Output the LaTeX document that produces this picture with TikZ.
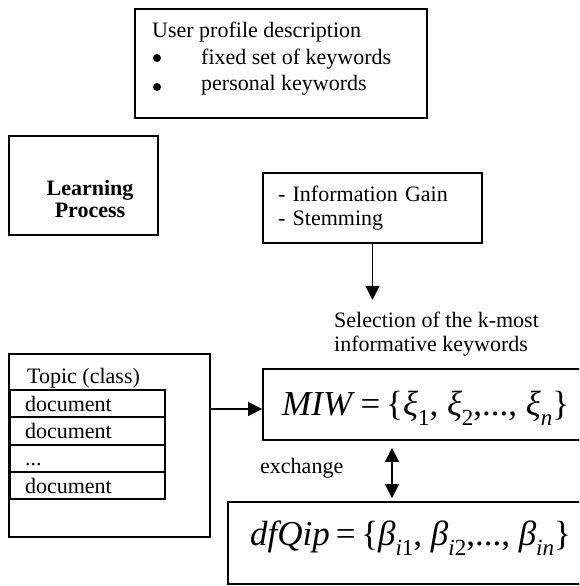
\documentclass[tikz,border=0pt]{standalone}
\usepackage{fontspec}
\setmainfont{Liberation Serif}
\usepackage{tikz}
\usetikzlibrary{arrows.meta,positioning}
\newcommand{\sbs}[1]{\raisebox{-0.3em}{\fontsize{23}{23}\selectfont #1}}
\newcommand{\formula}{\fontsize{35}{35}\selectfont}

\begin{document}
\begin{tikzpicture}[x=1pt, y=-1pt,
  box/.style={draw, line width=1.8pt, inner sep=0pt},
  txt/.style={inner sep=0pt, font=\fontsize{22}{24}\selectfont, align=left},
  docrow/.style={draw, line width=1.8pt, text width=125pt, inner xsep=15pt,
                 inner ysep=0pt, minimum height=27.3pt, text height=15pt,
                 text depth=0pt, font=\fontsize{22}{24}\selectfont, align=left},
  arrow/.style={-{Triangle[length=14pt, width=14pt]}, line width=1.4pt},
  dblarrow/.style={{Triangle[length=14pt, width=14pt]}-{Triangle[length=14pt, width=14pt]},
                   line width=1.4pt},
]
  \useasboundingbox (0,0) rectangle (579,586);
  \clip (0,0) rectangle (579,586);

  % user profile
  \node[box, minimum width=292pt, minimum height=109pt] (prof) at (281, 63.5) {};
  \node[txt, anchor=north west, font=\fontsize{22}{26.5}\selectfont] (proftxt) at (152, 22)
    {User profile description\\
     \hspace{49pt}fixed set of keywords\\
     \hspace{49pt}personal keywords};
  \fill (157, 58) circle (4pt);
  \fill (157, 87) circle (4pt);

  % learning process
  \node[box, minimum width=149pt, minimum height=99pt] (learn) at (83.5, 185.5) {};
  \node[txt, align=center, font=\fontsize{22}{22}\selectfont\bfseries] (lp) at (90, 198.5)
    {Learning\\Process};

  % keyword selection
  \node[box, minimum height=70pt, text width=189pt, inner xsep=15pt,
        font=\fontsize{22}{24}\selectfont, align=left] (info) at (372.5, 208)
    {- Information Gain\\- Stemming};
  \coordinate (seltip) at ([yshift=-56pt]info.south);
  \draw[arrow] (info.south) -- (seltip);
  \node[txt, anchor=north west] (sel) at (334, 312)
    {Selection of the k-most\\informative keywords};

  % topic with its documents
  \node[box, minimum width=201pt, minimum height=183pt] (topic) at (109.5, 445.5) {};
  \node[txt, anchor=base west] (topiclbl) at (27, 383) {Topic (class)};
  \node[docrow] (doc1) at (87.5, 403.65) {document};
  \node[docrow] (doc2) at (87.5, 430.95) {document};
  \node[docrow] (doc3) at (87.5, 458.25) {...};
  \node[docrow] (doc4) at (87.5, 485.55) {document};

  % most informative words
  \node[box, minimum width=377pt, minimum height=71pt] (miw) at (451.5, 404.5) {};
  \node[inner sep=0pt, anchor=base west, font=\formula] (miwf) at (282, 415)
    {\textit{MIW}\,=\,\{\textit{ξ}\sbs{1}, \textit{ξ}\sbs{2},..., \textit{ξ}\sbs{\textit{n}}\}};
  \coordinate (miwin) at ([yshift=-4.5pt]miw.west);
  \draw[arrow] (topic.east |- miwin) -- (miwin);

  % exchange
  \node[box, minimum width=432pt, minimum height=82pt] (dfq) at (444, 543) {};
  \node[inner sep=0pt, anchor=base west, font=\formula] (dfqf) at (250, 545)
    {\textit{dfQip}\,=\,\{\textit{β}\sbs{\textit{i}1}, \textit{β}\sbs{\textit{i}2},...,
     \textit{β}\sbs{\textit{in}}\}};
  \node[txt, anchor=base west] (exch) at (260, 473) {exchange};
  \coordinate (xch) at (392, 0);
  \draw[dblarrow, shorten <=7pt, shorten >=3pt] (miw.south -| xch) -- (dfq.north -| xch);
\end{tikzpicture}
\end{document}
